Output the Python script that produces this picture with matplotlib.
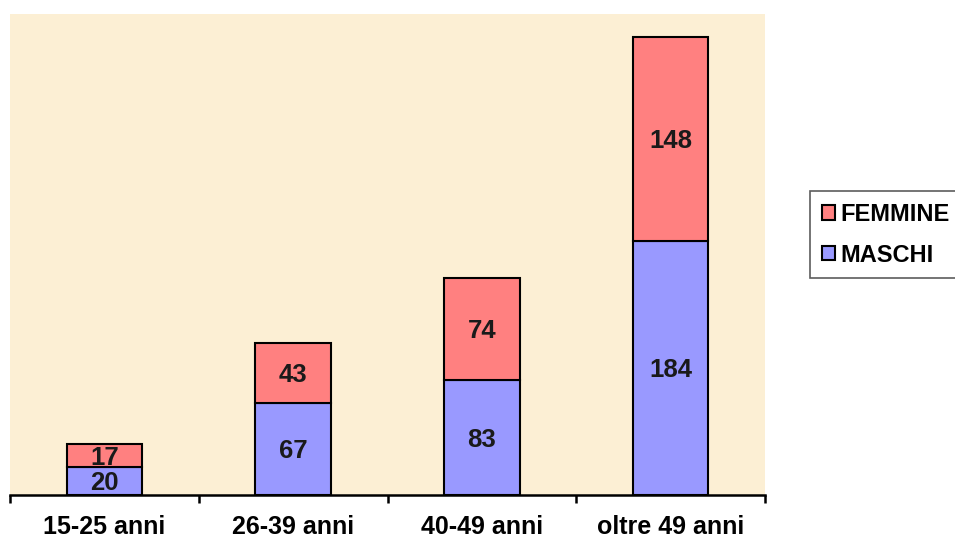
import matplotlib
matplotlib.use("Agg")
import matplotlib.pyplot as plt
from matplotlib.ticker import FixedLocator, NullFormatter, FixedFormatter

categories = ["15-25 anni", "26-39 anni", "40-49 anni", "oltre 49 anni"]
maschi = [20, 67, 83, 184]
femmine = [17, 43, 74, 148]

plt.rcParams['font.family'] = ['Liberation Sans', 'DejaVu Sans']
plt.rcParams['font.weight'] = 'bold'

W, H = 955, 538
fig = plt.figure(figsize=(W/100, H/100), dpi=100)
fig.patch.set_facecolor('white')
ax = fig.add_axes([10/W, 1-495/H, 755/W, 481/H])
ax.set_facecolor('#FCEFD4')

x = list(range(len(categories)))
b1 = ax.bar(x, maschi, width=0.4, color='#9999FF', edgecolor='black', linewidth=1.5, label='MASCHI', zorder=3)
b2 = ax.bar(x, femmine, width=0.4, bottom=maschi, color='#FF8080', edgecolor='black', linewidth=1.5, label='FEMMINE', zorder=3)

for i in x:
    ax.annotate(str(maschi[i]), (i, maschi[i]/2), xytext=(0, -1.5), textcoords='offset points',
                ha='center', va='center', fontsize=18.5, fontweight='bold', color='#1a1a1a', zorder=4)
    ax.annotate(str(femmine[i]), (i, maschi[i] + femmine[i]/2), xytext=(0, -1.5), textcoords='offset points',
                ha='center', va='center', fontsize=18.5, fontweight='bold', color='#1a1a1a', zorder=4)

ax.set_xlim(-0.5, 3.5)
ax.set_ylim(0, 348.5)
for s in ['top', 'right', 'left']:
    ax.spines[s].set_visible(False)
ax.spines['bottom'].set_linewidth(1.8)
ax.set_yticks([])
ax.xaxis.set_major_locator(FixedLocator([-0.5, 0.5, 1.5, 2.5, 3.5]))
ax.xaxis.set_major_formatter(NullFormatter())
ax.xaxis.set_minor_locator(FixedLocator(x))
ax.xaxis.set_minor_formatter(FixedFormatter(categories))
ax.tick_params(axis='x', which='major', length=6, width=1.8, direction='out')
ax.tick_params(axis='x', which='minor', length=0, pad=14.5, labelsize=18)
for lbl in ax.xaxis.get_minorticklabels():
    lbl.set_fontweight('bold')

leg = fig.legend(handles=[b2, b1], labels=['FEMMINE', 'MASCHI'], loc='upper left',
                 bbox_to_anchor=(810/W, 1-191/H), frameon=True, fancybox=False,
                 edgecolor='#333333', fontsize=17, handlelength=0.55, handleheight=0.55,
                 handletextpad=0.25, labelspacing=0.75, borderpad=0.5, borderaxespad=0)
leg.get_frame().set_linewidth(1.2)
for t in leg.get_texts():
    t.set_fontweight('bold')
for h in leg.legend_handles:
    h.set_linewidth(1.5)

fig.savefig('out.png', dpi=100)
